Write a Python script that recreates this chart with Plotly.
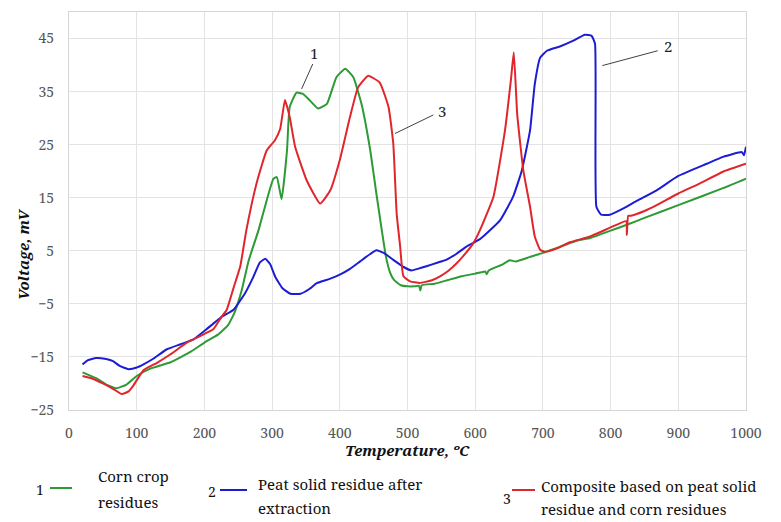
import plotly.graph_objects as go

# ---------------- data ----------------
green_t = [20, 40, 55, 70, 85, 100, 120, 150, 180, 200, 220, 235, 245, 255, 265, 280, 292, 302, 307, 314,
           322, 326, 336, 345, 356, 368, 381, 395, 408, 420, 432, 445, 454, 462, 468, 474, 480, 490, 500,
           510, 517, 519, 521, 540, 560, 580, 600, 615, 617, 620, 640, 651, 660, 680, 700, 750, 770, 800,
           824, 850, 900, 966, 1000]
green_v = [-17.9, -19.0, -20.2, -20.9, -20.2, -18.6, -17.2, -16.0, -14.0, -12.3, -10.8, -9.0, -6.5, -2.5,
           3.0, 8.9, 14.5, 18.6, 18.9, 14.7, 23.9, 32.1, 34.8, 34.6, 33.3, 31.8, 32.7, 37.7, 39.3, 37.7,
           32.7, 23.9, 15.8, 8.9, 4.0, 1.0, -0.5, -1.5, -1.7, -1.7, -1.6, -2.5, -1.5, -1.2, -0.5, 0.2, 0.7,
           1.1, 0.6, 1.3, 2.4, 3.2, 3.0, 3.8, 4.6, 6.9, 7.4, 8.8, 9.9, 11.2, 13.6, 16.8, 18.6]

blue_t = [20, 28, 40, 55, 65, 75, 88, 100, 110, 125, 144, 165, 184, 203, 225, 243, 260, 272, 282, 290,
          297, 305, 315, 327, 342, 355, 366, 385, 400, 415, 430, 445, 454, 465, 479, 495, 506, 515, 528,
          545, 557, 572, 587, 607, 637, 656, 669, 681, 688, 696, 706, 725, 745, 762, 772, 777, 779, 786,
          799, 819, 840, 868, 900, 942, 966, 994, 997, 1000]
blue_v = [-16.4, -15.6, -15.2, -15.4, -15.8, -16.7, -17.3, -17.0, -16.4, -15.3, -13.6, -12.6, -11.7, -9.8,
          -7.5, -6.1, -3.0, 0.0, 2.8, 3.5, 2.5, 0.0, -2.0, -3.1, -3.1, -2.2, -1.1, -0.3, 0.5, 1.6, 3.0, 4.4,
          5.1, 4.6, 3.3, 1.9, 1.3, 1.6, 2.1, 2.8, 3.3, 4.4, 5.8, 7.2, 10.8, 15.2, 20.2, 27.7, 36.4, 41.4,
          42.7, 43.5, 44.6, 45.7, 45.5, 44.0, 13.3, 11.8, 11.8, 13.0, 14.5, 16.4, 19.1, 21.4, 22.7, 23.6,
          23.0, 24.6]

red_t = [20, 35, 50, 65, 78, 88, 95, 110, 130, 150, 174, 195, 213, 225, 233, 243, 253, 262, 277, 292,
         304, 312, 319, 326, 334, 351, 371, 386, 400, 415, 427, 442, 459, 472, 479, 484, 489, 494, 504,
         518, 535, 548, 560, 573, 585, 597, 607, 627, 644, 653, 657, 662, 666, 671, 681, 688, 696, 703,
         720, 740, 770, 800, 823, 824, 826, 830, 850, 868, 900, 932, 966, 1000]
red_v = [-18.6, -19.1, -20.0, -21.0, -22.0, -21.5, -20.4, -17.5, -16.1, -14.5, -12.3, -11.0, -9.8, -7.5,
         -6.1, -2.0, 2.1, 8.9, 17.7, 23.9, 25.8, 28.0, 33.4, 30.2, 24.6, 18.3, 13.9, 16.4, 22.1, 30.2, 35.8,
         38.0, 36.7, 32.1, 25.2, 12.0, 6.0, 0.2, -0.75, -1.05, -0.6, 0.2, 1.2, 2.7, 4.4, 6.4, 8.9, 15.2,
         27.7, 37.5, 42.4, 30.8, 25.8, 20.2, 13.3, 7.7, 5.2, 4.8, 5.4, 6.6, 7.7, 9.4, 10.6, 8.0, 11.6, 11.6,
         12.5, 13.6, 15.8, 17.7, 19.9, 21.4]

x_ticks = [0, 100, 200, 300, 400, 500, 600, 700, 800, 900, 1000]
y_ticks = [-25, -15, -5, 5, 15, 25, 35, 45]

GREEN = "#2e9a36"
BLUE = "#1c1cd4"
RED = "#e0262c"
SERIF = "Noto Serif"

fig = go.Figure()
for t, v, c in [(green_t, green_v, GREEN), (blue_t, blue_v, BLUE), (red_t, red_v, RED)]:
    fig.add_trace(go.Scatter(x=t, y=v, mode="lines",
                             line=dict(color=c, width=2, shape="spline", smoothing=0.4),
                             showlegend=False, hoverinfo="skip"))

fig.update_layout(
    width=781, height=522,
    margin=dict(l=69, r=35, t=12, b=112),
    paper_bgcolor="white", plot_bgcolor="white",
    showlegend=False,
    font=dict(family=SERIF),
)
fig.update_xaxes(range=[0, 1000], tickvals=x_ticks, ticks="", showgrid=True, gridcolor="#e3e3e3",
                 gridwidth=1, showline=True, linecolor="#d6d6d6", linewidth=1, mirror=True,
                 zeroline=False, tickfont=dict(family=SERIF, size=14, color="#555555"),
                 ticklabelstandoff=10)
fig.update_yaxes(range=[-25, 50], tickvals=y_ticks, ticks="", showgrid=True, gridcolor="#e3e3e3",
                 gridwidth=1, showline=True, linecolor="#d6d6d6", linewidth=1, mirror=True,
                 zeroline=False, tickfont=dict(family=SERIF, size=14, color="#555555"),
                 ticklabelstandoff=11)

ann = []
shapes = []
# axis titles
ann.append(dict(text="<b><i>Temperature, ºC</i></b>", x=0.5, y=-0.1, xref="paper", yref="paper",
                showarrow=False, xanchor="center", yanchor="middle",
                font=dict(family=SERIF, size=15, color="#111111")))
ann.append(dict(text="<b><i>Voltage, mV</i></b>", x=-0.069, y=0.39, xref="paper", yref="paper",
                showarrow=False, textangle=-90, xanchor="center", yanchor="middle",
                font=dict(family=SERIF, size=15, color="#111111")))

# curve labels with leader lines
for lbl, tx, ty, x0, y0, x1, y1 in [("1", 362, 42.3, 343.6, 35.5, 360, 40.2),
                                     ("3", 550.5, 31.4, 481.5, 27.1, 538.2, 30.6),
                                     ("2", 884.3, 43.6, 787.8, 39.9, 869.6, 42.7)]:
    ann.append(dict(text=lbl, x=tx, y=ty, xref="x", yref="y", showarrow=False,
                    xanchor="center", yanchor="middle",
                    font=dict(family=SERIF, size=15, color="#222222")))
    shapes.append(dict(type="line", xref="x", yref="y", x0=x0, y0=y0, x1=x1, y1=y1,
                       line=dict(color="#404040", width=1)))

# custom legend at bottom
def px2paper(px, py):
    return (px - 69) / 677.0, (410 - py) / 398.0

leg = [
    ("1", 40, 489, (50, 72, 488), GREEN, "Corn crop", "residues", 96, 476, 502),
    ("2", 212, 492, (220, 247, 490), BLUE, "Peat solid residue after", "extraction", 256, 484, 508),
    ("3", 507, 498, (512, 535, 490), RED, "Composite based on peat solid",
     "residue and corn residues", 539, 486, 509),
]
for num, nx, ny, (lx0, lx1, ly), col, t1, t2, tx, ty1, ty2 in leg:
    xp, yp = px2paper(nx, ny)
    ann.append(dict(text=num, x=xp, y=yp, xref="paper", yref="paper", showarrow=False,
                    xanchor="center", yanchor="middle",
                    font=dict(family=SERIF, size=14, color="#111111")))
    a0, b0 = px2paper(lx0, ly)
    a1, _ = px2paper(lx1, ly)
    shapes.append(dict(type="line", xref="paper", yref="paper", x0=a0, y0=b0, x1=a1, y1=b0,
                       line=dict(color=col, width=2)))
    for txt, tyy in [(t1, ty1), (t2, ty2)]:
        xp2, yp2 = px2paper(tx, tyy)
        ann.append(dict(text=txt, x=xp2, y=yp2, xref="paper", yref="paper", showarrow=False,
                        xanchor="left", yanchor="middle",
                        font=dict(family=SERIF, size=15, color="#111111")))

fig.update_layout(annotations=ann, shapes=shapes)
fig.write_html("out.html")
